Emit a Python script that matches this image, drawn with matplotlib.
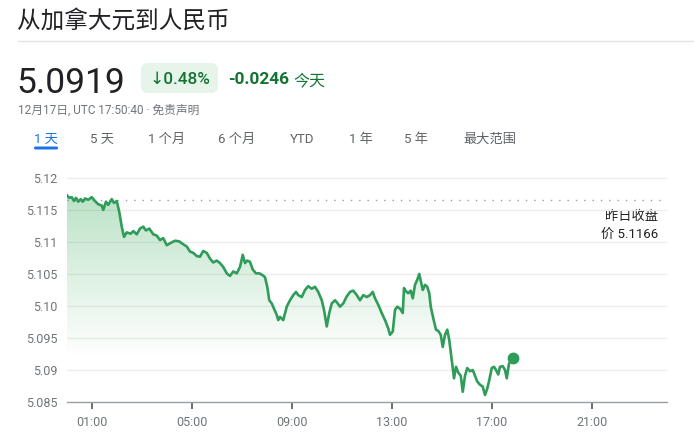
import numpy as np
import matplotlib
matplotlib.use("Agg")
import matplotlib.pyplot as plt
from matplotlib.patches import FancyBboxPatch, Polygon

# Intraday CAD -> CNY quotes (hours since 00:00 UTC, rate)
hours = [
    0.00, 0.09, 0.19, 0.28, 0.36, 0.45, 0.55, 0.63, 0.72, 0.85,
    0.99, 1.12, 1.25, 1.39, 1.45, 1.56, 1.65, 1.79, 1.88, 1.99,
    2.09, 2.19, 2.28, 2.39, 2.55, 2.65, 2.79, 2.92, 3.05, 3.16,
    3.29, 3.45, 3.59, 3.72, 3.85, 3.99, 4.12, 4.32, 4.49,
    4.59, 4.79, 4.92, 5.05, 5.19, 5.32, 5.45, 5.59, 5.72, 5.85,
    5.99, 6.12, 6.25, 6.39, 6.52, 6.65, 6.79, 6.92, 7.03, 7.12,
    7.21, 7.32, 7.43, 7.56, 7.69, 7.83, 7.92, 8.01, 8.09, 8.19,
    8.28, 8.39, 8.45,
    8.52, 8.65, 8.79, 8.92, 9.05, 9.16, 9.25, 9.39, 9.52, 9.65,
    9.79, 9.92, 10.05, 10.19, 10.28, 10.39, 10.49, 10.59, 10.72, 10.81,
    10.92, 11.05, 11.19, 11.32, 11.45, 11.59, 11.72, 11.85, 11.99, 12.12,
    12.23, 12.32, 12.45, 12.59, 12.72, 12.85,
    12.92, 13.03, 13.12, 13.21, 13.32, 13.43, 13.48, 13.56, 13.65, 13.75,
    13.83, 13.92, 14.01, 14.09, 14.15, 14.23, 14.32, 14.41, 14.49, 14.55,
    14.65, 14.76, 14.85, 14.95, 15.03, 15.12, 15.21, 15.29, 15.39, 15.48,
    15.56, 15.65, 15.75, 15.83, 15.92, 16.01, 16.12, 16.23, 16.32, 16.41,
    16.52, 16.63, 16.72, 16.81, 16.89, 16.99, 17.08, 17.16, 17.25, 17.32,
    17.43, 17.52, 17.59, 17.68, 17.844,
]
rates = [
    5.1173, 5.1169, 5.1170, 5.1164, 5.1169, 5.1163, 5.1167, 5.1163, 5.1168, 5.1166,
    5.1170, 5.1164, 5.1159, 5.1157, 5.1150, 5.1163, 5.1158, 5.1167, 5.1161, 5.1164,
    5.1147, 5.1124, 5.1108, 5.1115, 5.1113, 5.1117, 5.1112, 5.1121, 5.1124, 5.1118,
    5.1121, 5.1112, 5.1110, 5.1103, 5.1106, 5.1095, 5.1098, 5.1102, 5.1101,
    5.1098, 5.1093, 5.1085, 5.1083, 5.1078, 5.1077, 5.1086, 5.1083, 5.1074, 5.1068,
    5.1071, 5.1067, 5.1061, 5.1051, 5.1047, 5.1054, 5.1051, 5.1061, 5.1080, 5.1067,
    5.1071, 5.1069, 5.1057, 5.1051, 5.1051, 5.1048, 5.1045, 5.1030, 5.1009, 5.1004,
    5.0996, 5.0986, 5.0978,
    5.0983, 5.0978, 5.0999, 5.1009, 5.1017, 5.1022, 5.1017, 5.1014, 5.1025, 5.1031,
    5.1027, 5.1030, 5.1022, 5.1009, 5.0994, 5.0968, 5.0989, 5.1004, 5.1009, 5.1005,
    5.0999, 5.1004, 5.1015, 5.1022, 5.1024, 5.1017, 5.1009, 5.1017, 5.1014, 5.1017,
    5.1022, 5.1012, 5.1002, 5.0989, 5.0978, 5.0965,
    5.0955, 5.0960, 5.0994, 5.0999, 5.0996, 5.0989, 5.1028, 5.1023, 5.1020, 5.1024,
    5.1012, 5.1033, 5.1041, 5.1050, 5.1039, 5.1025, 5.1033, 5.1030, 5.1020, 5.0999,
    5.0981, 5.0963, 5.0961, 5.0955, 5.0936, 5.0955, 5.0963, 5.0947, 5.0916, 5.0887,
    5.0905, 5.0896, 5.0891, 5.0866, 5.0891, 5.0903, 5.0898, 5.0900, 5.0891, 5.0882,
    5.0877, 5.0874, 5.0861, 5.0871, 5.0884, 5.0903, 5.0905, 5.0900, 5.0893, 5.0905,
    5.0906, 5.0900, 5.0887, 5.0910, 5.0919,
]
assert len(hours) == len(rates)

prev_close = 5.1166
ytick_values = [5.085, 5.09, 5.095, 5.10, 5.105, 5.11, 5.115, 5.12]
ytick_labels = ["5.085", "5.09", "5.095", "5.10", "5.105", "5.11", "5.115", "5.12"]
xtick_values = [1, 5, 9, 13, 17, 21]
xtick_labels = ["01:00", "05:00", "09:00", "13:00", "17:00", "21:00"]
range_tabs = ["1 天", "5 天", "1 个月", "6 个月", "YTD", "1 年", "5 年", "最大范围"]
tab_x = [34, 90, 148, 218, 290, 349, 404, 463]

title = "从加拿大元到人民币"
price_text = "5.0919"
pct_text = "↓0.48%"
change_text = "-0.0246"
today_text = "今天"
stamp_text = "12月17日, UTC 17:50:40 · 免责声明"
close_lines = ["昨日收盘", "价 5.1166"]

plt.rcParams['font.family'] = ['Roboto', 'Noto Sans CJK SC', 'DejaVu Sans']

W, H = 694, 433
fig = plt.figure(figsize=(W / 100, H / 100), dpi=100)
fig.patch.set_facecolor("white")

# Pixel-space overlay for the header block
bg = fig.add_axes([0, 0, 1, 1])
bg.set_xlim(0, W)
bg.set_ylim(H, 0)
bg.axis("off")

dark = "#202124"
grey = "#70757a"
green_dark = "#137333"
line_green = "#2f9c59"

bg.text(17, 28, title, fontsize=17, color=dark, va="baseline", ha="left",
        family=['Noto Sans CJK SC', 'DejaVu Sans'])
bg.plot([18, W], [41, 41], color="#e4e4e4", lw=1)

bg.text(16, 93, price_text, fontsize=25.5, color=dark, va="baseline", ha="left")

pill = FancyBboxPatch((141, 63), 77, 30, boxstyle="round,pad=0,rounding_size=7",
                      facecolor="#e6f4ea", edgecolor="none")
bg.add_patch(pill)
bg.text(150, 84, pct_text, fontsize=12.3, color=green_dark, va="baseline", ha="left",
        fontweight="medium", family=['Roboto', 'DejaVu Sans'])
bg.text(228, 84, change_text, fontsize=12.4, color=green_dark, va="baseline", ha="left",
        fontweight="bold")
bg.text(293, 85, today_text, fontsize=11.5, color=green_dark, va="baseline", ha="left",
        family=['Noto Sans CJK SC'])

bg.text(18, 114, stamp_text, fontsize=8.5, color=grey, va="baseline", ha="left")

for i, (label, x) in enumerate(zip(range_tabs, tab_x)):
    color = "#1a73e8" if i == 0 else "#5f6368"
    bg.text(x, 143, label, fontsize=9.5, color=color, va="baseline", ha="left")
underline = FancyBboxPatch((34, 146.5), 24, 3, boxstyle="round,pad=0,rounding_size=1.5",
                           facecolor="#1a73e8", edgecolor="none")
bg.add_patch(underline)

for k, line in enumerate(close_lines):
    bg.text(658, 220 + k * 18, line, fontsize=9.5, color=dark, va="baseline", ha="right")

# Price chart
ax = fig.add_axes([67 / W, (H - 402) / H, 600 / W, 232 / H])
ax.set_xlim(0, 24)
ax.set_ylim(5.085, 5.12125)
ax.set_facecolor("none")

for s in ("top", "right", "left"):
    ax.spines[s].set_visible(False)
ax.spines["bottom"].set_color("#9aa0a6")
ax.spines["bottom"].set_linewidth(1)

ax.set_yticks(ytick_values)
ax.set_yticklabels(ytick_labels)
ax.set_xticks(xtick_values)
ax.set_xticklabels(xtick_labels)
ax.tick_params(axis="y", length=0, pad=7, labelsize=9, labelcolor=grey)
ax.tick_params(axis="x", length=5, width=1.3, color="#5f6368", pad=5,
               labelsize=9, labelcolor=grey)
ax.yaxis.grid(True, color="#ececec", lw=0.9)
ax.set_axisbelow(True)

ax.axhline(prev_close, color="#9aa0a6", lw=1, linestyle=(0, (1, 5)), zorder=1)

t = np.array(hours)
v = np.array(rates)

# Gradient fill under the line
top = v.max()
fade_to = 5.092
ys = np.linspace(top, 5.085, 300)
alpha = np.clip((ys - fade_to) / (top - fade_to), 0, 1) * 0.33
rgba = np.zeros((300, 1, 4))
rgba[..., 0] = 0.20
rgba[..., 1] = 0.66
rgba[..., 2] = 0.33
rgba[:, 0, 3] = alpha
im = ax.imshow(rgba, extent=[t[0], t[-1], 5.085, top], aspect="auto",
               origin="upper", zorder=1, interpolation="bilinear")
verts = np.column_stack([np.r_[t, t[-1], t[0]], np.r_[v, 5.085, 5.085]])
clip = Polygon(verts, closed=True, transform=ax.transData, facecolor="none",
               edgecolor="none")
ax.add_patch(clip)
im.set_clip_path(clip)

ax.plot(t, v, color=line_green, lw=1.9, zorder=3, solid_joinstyle="round")
ax.plot(t[-1], v[-1], "o", ms=7.5, color=line_green, zorder=4, clip_on=False)

fig.savefig("out.png", dpi=100, facecolor="white")
